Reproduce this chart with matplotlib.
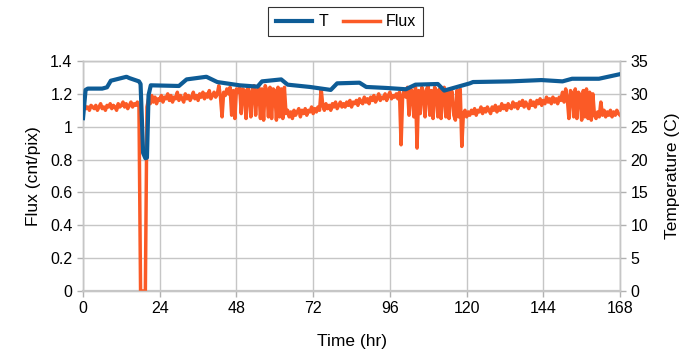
import numpy as np
import matplotlib.pyplot as plt
from matplotlib.ticker import FuncFormatter

plt.rcParams['font.family'] = ['Liberation Sans', 'DejaVu Sans']

# flux samples, one every half hour from 0 to 168 hr
flux = [
    1.10, 1.13, 1.11, 1.12, 1.10, 1.13, 1.12, 1.11,
    1.13, 1.10, 1.12, 1.14, 1.11, 1.12, 1.10, 1.13,
    1.12, 1.14, 1.11, 1.13, 1.12, 1.10, 1.14, 1.12,
    1.13, 1.15, 1.12, 1.14, 1.11, 1.13, 1.15, 1.12,
    1.14, 1.13, 1.15, 1.12,
    0.00, 0.00, 0.00, 0.00,
    1.12, 1.17, 1.14, 1.19,
    1.15, 1.18, 1.14, 1.17, 1.16, 1.19, 1.15, 1.18,
    1.17, 1.20, 1.16, 1.19, 1.15, 1.18, 1.17, 1.21,
    1.16, 1.19, 1.17, 1.15, 1.20, 1.17, 1.19, 1.16,
    1.18, 1.21, 1.17, 1.19, 1.16, 1.20, 1.18, 1.21,
    1.17, 1.20, 1.18, 1.22, 1.17, 1.19, 1.21, 1.18,
    1.20, 1.25, 1.18, 1.06, 1.21, 1.19, 1.23, 1.20,
    1.24, 1.07, 1.22, 1.05, 1.23, 1.21, 1.24, 1.08,
    1.23, 1.22, 1.05, 1.24, 1.21, 1.06, 1.23, 1.25,
    1.07, 1.22, 1.24, 1.05, 1.23, 1.04, 1.25, 1.22,
    1.06, 1.24, 1.05, 1.23, 1.22, 1.04, 1.24, 1.06,
    1.23, 1.05, 1.24, 1.08, 1.10, 1.06, 1.09, 1.05,
    1.10, 1.07, 1.09, 1.11, 1.06, 1.10, 1.08, 1.11,
    1.07, 1.10, 1.09, 1.12, 1.08, 1.11, 1.09, 1.12,
    1.10, 1.23, 1.13, 1.10, 1.14, 1.11, 1.13, 1.10,
    1.14, 1.12, 1.15, 1.11, 1.13, 1.15, 1.12, 1.14,
    1.12, 1.15, 1.13, 1.16, 1.12, 1.15, 1.14, 1.16,
    1.13, 1.17, 1.15, 1.14, 1.18, 1.15, 1.17, 1.14,
    1.18, 1.16, 1.19, 1.15, 1.17, 1.20, 1.16, 1.18,
    1.17, 1.20, 1.16, 1.19, 1.21, 1.17, 1.19, 1.18,
    1.20, 1.17, 1.21, 0.89, 1.19, 1.22, 1.18, 1.24,
    1.07, 1.23, 1.21, 1.06, 1.24, 0.87, 1.22, 1.08,
    1.24, 1.21, 1.06, 1.23, 1.25, 1.07, 1.22, 1.05,
    1.24, 1.22, 1.06, 1.23, 1.05, 1.21, 1.24, 1.06,
    1.22, 1.05, 1.23, 1.21, 1.07, 1.04, 1.22, 1.06,
    1.23, 0.88, 1.08, 1.10, 1.06, 1.09, 1.07, 1.10,
    1.08, 1.11, 1.07, 1.10, 1.09, 1.12, 1.08, 1.11,
    1.09, 1.12, 1.10, 1.08, 1.12, 1.10, 1.13, 1.09,
    1.12, 1.10, 1.14, 1.11, 1.13, 1.10, 1.14, 1.12,
    1.11, 1.15, 1.12, 1.14, 1.11, 1.15, 1.13, 1.16,
    1.12, 1.15, 1.13, 1.11, 1.16, 1.13, 1.15, 1.12,
    1.16, 1.14, 1.17, 1.13, 1.16, 1.14, 1.18, 1.15,
    1.17, 1.14, 1.18, 1.15, 1.17, 1.14, 1.18, 1.16,
    1.21, 1.15, 1.23, 1.17, 1.05, 1.22, 1.20, 1.06,
    1.23, 1.05, 1.21, 1.19, 1.04, 1.22, 1.06, 1.23,
    1.05, 1.21, 1.04, 1.20, 1.07, 1.05, 1.09, 1.06,
    1.15, 1.07, 1.10, 1.06, 1.09, 1.07, 1.10, 1.06,
    1.09, 1.07, 1.10, 1.08, 1.07,
]
flux_hr = np.arange(len(flux)) * 0.5

# temperature (C)
temp_hr = [0, 0.8, 1.5, 6, 7.5, 8.7, 13.6, 14.5, 17.5, 18.0, 18.8, 19.5, 20.0,
           20.5, 21.2, 30, 32.4, 38.6, 42, 49, 54.6, 56, 62, 64, 71, 77.5,
           79.5, 86.5, 88.6, 94.8, 101, 104, 111, 113, 121, 122, 133.7, 143.4,
           150, 153, 161.4, 168]
temp = [26.3, 30.6, 30.8, 30.8, 31.0, 32.0, 32.6, 32.4, 31.9, 31.5, 21.0, 20.2,
        20.3, 29.8, 31.3, 31.2, 32.2, 32.6, 31.8, 31.3, 31.1, 31.9, 32.2, 31.4,
        31.05, 30.6, 31.6, 31.7, 31.05, 30.9, 30.7, 31.4, 31.5, 30.5, 31.6,
        31.8, 31.9, 32.1, 31.9, 32.3, 32.3, 33.0]

x_ticks = [0, 24, 48, 72, 96, 120, 144, 168]

blue = '#0e5c96'
orange = '#fb5a26'
grid_c = '#c6c6c6'

fig = plt.figure(figsize=(6.89, 3.61), dpi=100)
ax = fig.add_axes([0.1205, 0.194, 0.7794, 0.637])
ax2 = ax.twinx()

ln_f, = ax.plot(flux_hr, flux, color=orange, lw=2.5, zorder=3)
ln_t, = ax2.plot(temp_hr, temp, color=blue, lw=3.0, zorder=3)

ax.set_xlim(0, 168)
ax.set_ylim(0, 1.4)
ax2.set_ylim(0, 35)
ax.set_xticks(x_ticks)
ax.set_yticks(np.arange(0, 1.41, 0.2))
ax2.set_yticks(np.arange(0, 36, 5))
ax.yaxis.set_major_formatter(FuncFormatter(lambda v, p: f"{v:g}"))

ax.grid(True, color=grid_c, lw=1.0)
ax.set_axisbelow(True)
for a in (ax, ax2):
    for s in a.spines.values():
        s.set_color(grid_c)
        s.set_linewidth(1.0)
    a.tick_params(colors='#b0b0b0', labelcolor='black', labelsize=11.5,
                  length=4, width=1.0)
ax.spines['bottom'].set_linewidth(1.6)

ax.set_xlabel('Time (hr)', fontsize=12.5, labelpad=13)
ax.set_ylabel('Flux (cnt/pix)', fontsize=12.5, labelpad=7)
ax2.set_ylabel('Temperature (C)', fontsize=12.5, labelpad=12)

leg = fig.legend([ln_t, ln_f], ['T', 'Flux'], loc='center',
                 bbox_to_anchor=(0.502, 0.94), ncol=2, fontsize=11.5,
                 frameon=True, fancybox=False, edgecolor='black',
                 handlelength=2.3, handletextpad=0.4, columnspacing=0.9,
                 borderpad=0.45)
leg.get_frame().set_linewidth(0.8)

fig.savefig('out.png', dpi=100)
